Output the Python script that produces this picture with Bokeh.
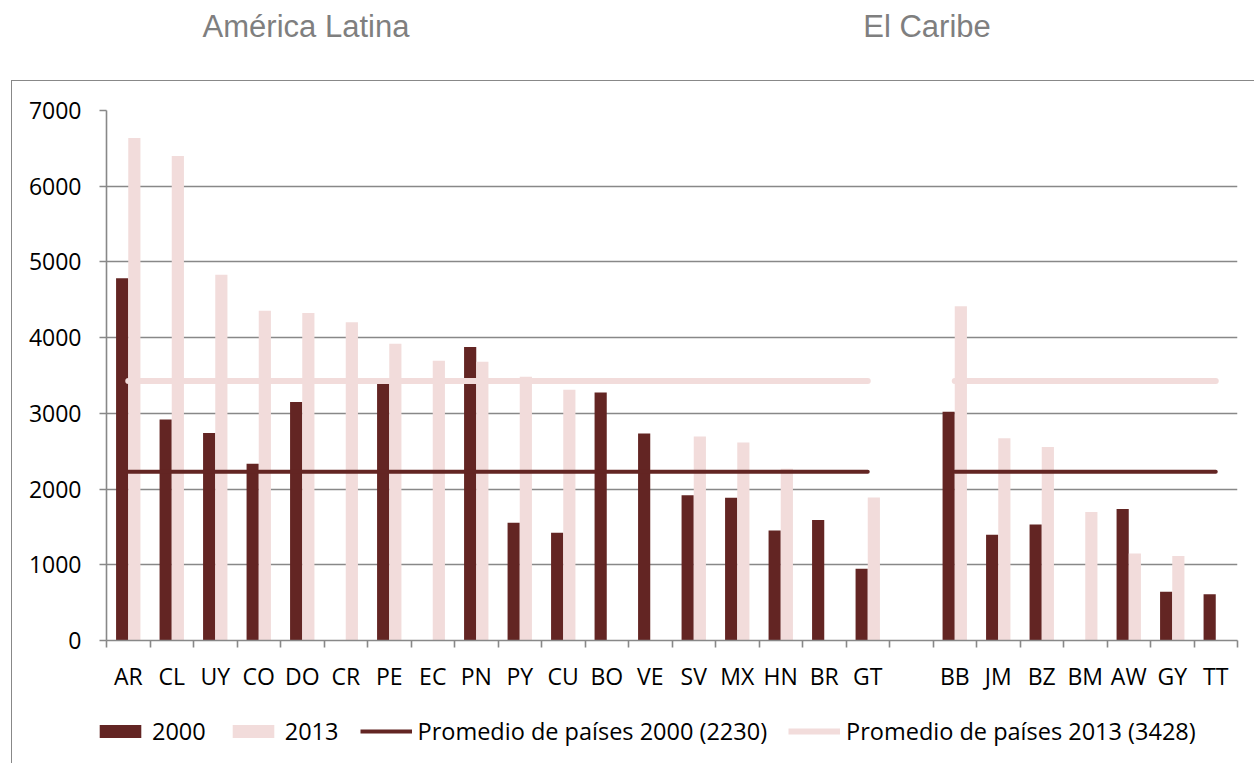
import numpy as np
from bokeh.plotting import figure
from bokeh.layouts import column
from bokeh.models import (ColumnDataSource, Range1d, FixedTicker, Legend, LegendItem, Div)
from bokeh.embed import file_html
from bokeh.resources import INLINE

# ---------------- data ----------------
cats_la = ["AR", "CL", "UY", "CO", "DO", "CR", "PE", "EC", "PN", "PY", "CU", "BO",
           "VE", "SV", "MX", "HN", "BR", "GT"]
cats_car = ["BB", "JM", "BZ", "BM", "AW", "GY", "TT"]

v2000_la = [4785, 2920, 2740, 2335, 3150, None, 3387, None, 3875, 1555, 1422, 3276,
            2734, 1920, 1885, 1453, 1590, 947]
v2013_la = [6636, 6400, 4832, 4355, 4327, 4204, 3920, 3694, 3682, 3483, 3311, None,
            None, 2695, 2616, 2268, None, 1889]
v2000_car = [3022, 1396, 1533, None, 1736, 643, 612]
v2013_car = [4414, 2670, 2555, 1696, 1150, 1115, None]

avg2000 = 2230
avg2013 = 3428

group_titles = ["América Latina", "El Caribe"]
legend_labels = ["2000", "2013", "Promedio de países 2000 (2230)",
                 "Promedio de países 2013 (3428)"]
y_ticks = [0, 1000, 2000, 3000, 4000, 5000, 6000, 7000]

DARK = "#632523"
PINK = "#F2DCDB"
GRID = "#888888"
FONT = "Open Sans"

# ---------------- positions ----------------
n_la = len(cats_la)
x_la = list(range(n_la))
x_car = [n_la + 1 + i for i in range(len(cats_car))]
all_cats = cats_la + cats_car
all_x = x_la + x_car
v2000 = v2000_la + v2000_car
v2013 = v2013_la + v2013_car
n_slots = n_la + 1 + len(cats_car)

BW = 0.28
s2000 = ColumnDataSource(dict(x=[x - BW / 2 for x, v in zip(all_x, v2000) if v is not None],
                              top=[v for v in v2000 if v is not None]))
s2013 = ColumnDataSource(dict(x=[x + BW / 2 for x, v in zip(all_x, v2013) if v is not None],
                              top=[v for v in v2013 if v is not None]))
xs_groups = [[x_la[0], x_la[-1]], [x_car[0], x_car[-1]]]
s_avg00 = ColumnDataSource(dict(xs=xs_groups, ys=[[avg2000, avg2000]] * 2))
s_avg13 = ColumnDataSource(dict(xs=xs_groups, ys=[[avg2013, avg2013]] * 2))

p = figure(width=1242, height=629, output_backend="svg", toolbar_location=None,
           x_range=Range1d(-0.5, n_slots - 0.5), y_range=Range1d(0, 7000),
           min_border_left=94, min_border_right=17, min_border_top=29,
           min_border_bottom=70)
p.outline_line_color = None
p.background_fill_color = "white"
p.border_fill_color = "white"

# grid
p.xgrid.grid_line_color = None
p.ygrid.grid_line_color = GRID
p.ygrid.grid_line_width = 1.6
p.ygrid.ticker = FixedTicker(ticks=y_ticks)

# y axis
p.yaxis.ticker = FixedTicker(ticks=y_ticks)
p.yaxis.axis_line_color = GRID
p.yaxis.axis_line_width = 1.6
p.yaxis.major_tick_line_color = GRID
p.yaxis.major_tick_line_width = 1.6
p.yaxis.major_tick_out = 7
p.yaxis.major_tick_in = 0
p.yaxis.minor_tick_line_color = None
p.yaxis.major_label_text_font = FONT
p.yaxis.major_label_text_font_size = "23px"
p.yaxis.major_label_text_color = "black"
p.yaxis.major_label_standoff = 18

# x axis
p.xaxis.ticker = FixedTicker(ticks=all_x,
                             minor_ticks=[i - 0.5 for i in range(n_slots + 1)])
p.xaxis.major_label_overrides = {x: c for x, c in zip(all_x, all_cats)}
p.xaxis.axis_line_color = GRID
p.xaxis.axis_line_width = 1.6
p.xaxis.major_tick_line_color = None
p.xaxis.minor_tick_line_color = GRID
p.xaxis.minor_tick_line_width = 1.6
p.xaxis.minor_tick_out = 7
p.xaxis.minor_tick_in = 0
p.xaxis.major_label_text_font = FONT
p.xaxis.major_label_text_font_size = "23px"
p.xaxis.major_label_text_color = "black"
p.xaxis.major_label_standoff = 12

# bars
p.vbar(x="x", top="top", bottom=0, width=BW, source=s2000,
       fill_color=DARK, line_color=None)
p.vbar(x="x", top="top", bottom=0, width=BW, source=s2013,
       fill_color=PINK, line_color=None)

# average lines per group
p.multi_line(xs="xs", ys="ys", source=s_avg13, line_color=PINK,
             line_width=6, line_cap="round")
p.multi_line(xs="xs", ys="ys", source=s_avg00, line_color=DARK,
             line_width=4, line_cap="round")

# legend strip (separate plot so that the legend is not clipped)
lf = figure(width=1242, height=53, output_backend="svg", toolbar_location=None,
            x_range=Range1d(0, 1), y_range=Range1d(0, 1),
            min_border=0, min_border_left=0, min_border_right=0,
            min_border_top=0, min_border_bottom=0)
try:
    lf.frame_align = False
    loc_x = 82
except Exception:
    loc_x = -11
lf.axis.visible = False
lf.grid.visible = False
lf.outline_line_color = None
lf.border_fill_color = "white"
lg0 = lf.vbar(x="x", top="top", width=BW, source=s2000, fill_color=DARK,
              line_color=None, visible=False)
lg1 = lf.vbar(x="x", top="top", width=BW, source=s2013, fill_color=PINK,
              line_color=None, visible=False)
lg2 = lf.multi_line(xs="xs", ys="ys", source=s_avg00, line_color=DARK,
                    line_width=4, visible=False)
lg3 = lf.multi_line(xs="xs", ys="ys", source=s_avg13, line_color=PINK,
                    line_width=6, visible=False)
legend = Legend(items=[LegendItem(label=legend_labels[0], renderers=[lg0]),
                       LegendItem(label=legend_labels[1], renderers=[lg1]),
                       LegendItem(label=legend_labels[2], renderers=[lg2]),
                       LegendItem(label=legend_labels[3], renderers=[lg3])],
                orientation="horizontal", location=(loc_x, 16),
                glyph_width=52, glyph_height=16, label_standoff=6, spacing=21,
                padding=0, margin=0, border_line_color=None,
                background_fill_alpha=0, label_text_font=FONT,
                label_text_font_size="23.5px", label_text_color="black",
                inactive_fill_alpha=0)
lf.add_layout(legend, "center")

# group titles (header above the bordered chart)
header_html = (
    '<div style="position:relative;width:1254px;height:80px;'
    'font-family:\'Liberation Sans\';font-size:31px;line-height:31px;color:#7F7F7F">'
    f'<span style="position:absolute;left:306px;top:11px;transform:translateX(-50%);'
    f'white-space:nowrap">{group_titles[0]}</span>'
    f'<span style="position:absolute;left:927px;top:11px;transform:translateX(-50%);'
    f'white-space:nowrap">{group_titles[1]}</span>'
    '</div>')
header = Div(text=header_html, width=1254, height=80, margin=0)

body = column(p, lf, spacing=0, margin=(0, 0, 0, 11),
              styles={"border-left": "1.6px solid #888888",
                      "border-top": "1.6px solid #888888"})
layout = column(header, body, spacing=0)
open("out.html", "w").write(file_html(layout, INLINE))
